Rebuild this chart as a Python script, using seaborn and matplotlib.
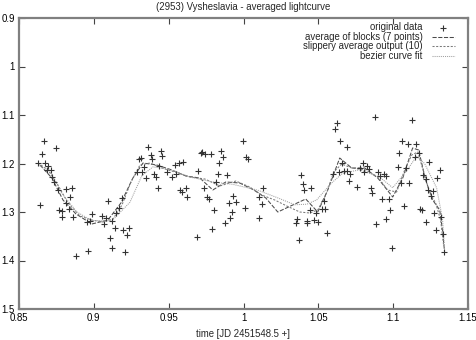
import numpy as np
import pandas as pd
import matplotlib
matplotlib.use("Agg")
import matplotlib.pyplot as plt
import seaborn as sns

# ---- data -------------------------------------------------------------
time_obs = [0.8629, 0.8642, 0.8652, 0.8667, 0.8674, 0.8689, 0.8696, 0.8714, 0.8722, 0.8736,
            0.8745, 0.8762, 0.8767, 0.8785, 0.8789, 0.8812, 0.8816, 0.8834, 0.8838, 0.8856,
            0.8860, 0.8879, 0.8952, 0.8963, 0.8976, 0.8985, 0.9052, 0.9069, 0.9083, 0.9096,
            0.9106, 0.9119, 0.9123, 0.9141, 0.9148, 0.9170, 0.9190, 0.9196, 0.9208, 0.9219,
            0.9236, 0.9290, 0.9303, 0.9312, 0.9321, 0.9337, 0.9346, 0.9363, 0.9381, 0.9390,
            0.9403, 0.9413, 0.9430, 0.9435, 0.9448, 0.9457, 0.9490, 0.9521, 0.9541, 0.9548,
            0.9570, 0.9575, 0.9590, 0.9597, 0.9615, 0.9624, 0.9690, 0.9697, 0.9713, 0.9724,
            0.9735, 0.9746, 0.9757, 0.9770, 0.9784, 0.9790, 0.9804, 0.9813, 0.9831, 0.9837,
            0.9853, 0.9864, 0.9877, 0.9887, 0.9902, 0.9909, 0.9924, 0.9931, 0.9949, 0.9997,
            1.0007, 1.0020, 1.0033, 1.0104, 1.0104, 1.0124, 1.0131, 1.0349, 1.0358, 1.0371,
            1.0383, 1.0398, 1.0405, 1.0421, 1.0425, 1.0443, 1.0451, 1.0469, 1.0487, 1.0498,
            1.0523, 1.0546, 1.0536, 1.0558, 1.0598, 1.0614, 1.0625, 1.0638, 1.0643, 1.0661,
            1.0672, 1.0692, 1.0692, 1.0705, 1.0714, 1.0761, 1.0781, 1.0799, 1.0803, 1.0828,
            1.0839, 1.0850, 1.0861, 1.0877, 1.0883, 1.0899, 1.0910, 1.0927, 1.0937, 1.0953,
            1.0972, 1.0979, 1.0952, 1.0994, 1.1032, 1.1039, 1.1055, 1.1059, 1.1074, 1.1088,
            1.1099, 1.1106, 1.1126, 1.1144, 1.1150, 1.1172, 1.1180, 1.1194, 1.1199, 1.1217,
            1.1222, 1.1234, 1.1239, 1.1251, 1.1264, 1.1271, 1.1289, 1.1293, 1.1311, 1.1317,
            1.1333, 1.1339]
mag_obs = [1.1996, 1.2862, 1.1804, 1.1536, 1.1996, 1.2134, 1.2052, 1.2134, 1.2272, 1.2375,
           1.1687, 1.2546, 1.2959, 1.2986, 1.3109, 1.2532, 1.2808, 1.2944, 1.2697, 1.2511,
           1.3109, 1.3901, 1.3200, 1.3804, 1.3179, 1.3048, 1.3083, 1.3254, 1.3130, 1.2779,
           1.3542, 1.3186, 1.3736, 1.3324, 1.3027, 1.2924, 1.2705, 1.3371, 1.3831, 1.3474,
           1.3336, 1.2181, 1.1913, 1.1893, 1.2181, 1.2078, 1.2305, 1.1666, 1.1825, 1.1913,
           1.2217, 1.2272, 1.2511, 1.2052, 1.1742, 1.1845, 1.2169, 1.2272, 1.2031, 1.2217,
           1.1984, 1.2546, 1.2582, 1.1963, 1.2511, 1.2685, 1.3509, 1.2148, 1.1790, 1.1769,
           1.2499, 1.1804, 1.2685, 1.2726, 1.1810, 1.3357, 1.2959, 1.2388, 1.2217, 1.1996,
           1.1742, 1.1872, 1.3233, 1.2237, 1.2821, 1.3118, 1.3006, 1.2670, 1.2800, 1.1536,
           1.2924, 1.1872, 1.1913, 1.2685, 1.3118, 1.2841, 1.2511, 1.3221, 1.3151, 1.3577,
           1.2237, 1.2429, 1.2546, 1.3186, 1.3221, 1.2969, 1.2499, 1.3165, 1.3027, 1.3212,
           1.2938, 1.2944, 1.2779, 1.3423, 1.2217, 1.1295, 1.1171, 1.2169, 1.1536, 1.1984,
           1.2148, 1.1666, 1.2148, 1.2361, 1.2217, 1.2478, 1.2099, 1.1996, 1.2169, 1.2052,
           1.2120, 1.2511, 1.2615, 1.1035, 1.3254, 1.2169, 1.2258, 1.2738, 1.2223, 1.2258,
           1.2738, 1.2965, 1.3151, 1.3742, 1.2066, 1.1790, 1.2408, 1.1530, 1.2876, 1.2099,
           1.1604, 1.2408, 1.1103, 1.1872, 1.1604, 1.1777, 1.2928, 1.2969, 1.2237, 1.3216,
           1.2320, 1.2546, 1.1975, 1.2680, 1.2557, 1.3027, 1.3371, 1.2293, 1.2134, 1.3093,
           1.3460, 1.3825]

block_t = [0.8640, 0.8720, 0.8794, 0.8881, 0.8987, 0.9094, 0.9181, 0.9261, 0.9328, 0.9421,
           0.9521, 0.9615, 0.9708, 0.9795, 0.9882, 0.9975, 1.0069, 1.0149, 1.0229, 1.0329,
           1.0416, 1.0496, 1.0563, 1.0643, 1.0723, 1.0810, 1.0897, 1.0997, 1.1064, 1.1130,
           1.1170, 1.1217, 1.1264, 1.1311, 1.1331, 1.1344]
block_m = [1.2031, 1.2299, 1.2753, 1.3041, 1.3247, 1.3165, 1.2814, 1.2299, 1.1990, 1.2031,
           1.2134, 1.2258, 1.2299, 1.2546, 1.2381, 1.2402, 1.2546, 1.2711, 1.3000, 1.2856,
           1.2732, 1.3000, 1.2546, 1.1887, 1.2093, 1.2093, 1.2299, 1.2691, 1.2299, 1.1680,
           1.1722, 1.2340, 1.2753, 1.2959, 1.3412, 1.3845]

slip_t = [0.8627, 0.8694, 0.8760, 0.8827, 0.8907, 0.8987, 0.9061, 0.9128, 0.9188, 0.9248,
          0.9308, 0.9375, 0.9455, 0.9541, 0.9642, 0.9742, 0.9842, 0.9949, 1.0042, 1.0122,
          1.0209, 1.0289, 1.0376, 1.0443, 1.0496, 1.0550, 1.0603, 1.0656, 1.0723, 1.0817,
          1.0897, 1.0963, 1.1023, 1.1077, 1.1124, 1.1164, 1.1204, 1.1244, 1.1284, 1.1317,
          1.1337]
slip_m = [1.1990, 1.2134, 1.2443, 1.2814, 1.3083, 1.3165, 1.3206, 1.3144, 1.2856, 1.2381,
          1.2031, 1.1990, 1.2093, 1.2175, 1.2278, 1.2320, 1.2464, 1.2361, 1.2485, 1.2650,
          1.2753, 1.2876, 1.3000, 1.3021, 1.2959, 1.2650, 1.2175, 1.2010, 1.2093, 1.2134,
          1.2278, 1.2546, 1.2588, 1.2134, 1.1825, 1.1763, 1.2175, 1.2608, 1.2814, 1.3165,
          1.3681]

bez_t = [0.8627, 0.8707, 0.8787, 0.8887, 0.8987, 0.9121, 0.9241, 0.9321, 0.9395, 0.9508,
         0.9642, 0.9795, 0.9929, 1.0095, 1.0222, 1.0342, 1.0423, 1.0489, 1.0589, 1.0663,
         1.0776, 1.0910, 1.0997, 1.1090, 1.1157, 1.1210, 1.1290, 1.1330, 1.1344]
bez_m = [1.203, 1.215, 1.262, 1.300, 1.318, 1.318, 1.280, 1.225, 1.207, 1.212,
         1.228, 1.238, 1.243, 1.255, 1.270, 1.285, 1.284, 1.275, 1.240, 1.220,
         1.213, 1.228, 1.250, 1.215, 1.185, 1.200, 1.250, 1.315, 1.380]

x_ticks = [0.85, 0.9, 0.95, 1.0, 1.05, 1.1, 1.15]
x_tick_labels = ["0.85", "0.9", "0.95", "1", "1.05", "1.1", "1.15"]
y_ticks = [0.9, 1.0, 1.1, 1.2, 1.3, 1.4, 1.5]
y_tick_labels = ["0.9", "1", "1.1", "1.2", "1.3", "1.4", "1.5"]

# ---- style ------------------------------------------------------------
sns.set_theme(style="white")
plt.rcParams["font.family"] = ["Liberation Sans", "DejaVu Sans"]
FS = 6.9

fig = plt.figure(figsize=(4.77, 3.40), dpi=100)
ax = fig.add_axes([19 / 477, 1 - 309 / 340, 449 / 477, 291 / 340])

sns.scatterplot(x=time_obs, y=mag_obs, marker="+", s=24, color="#333333",
                linewidth=0.8, ax=ax, label="original data", zorder=3)

sns.lineplot(x=block_t, y=block_m, ax=ax, color="#4a4a4a", linewidth=0.75,
             estimator=None, sort=False, label="average of blocks (7 points)")
sns.lineplot(x=slip_t, y=slip_m, ax=ax, color="#7a7a7a", linewidth=0.75,
             estimator=None, sort=False, label="slippery average output (10)")
sns.lineplot(x=bez_t, y=bez_m, ax=ax, color="#a0a0a0", linewidth=0.75,
             estimator=None, sort=False, label="bezier curve fit")

lines = ax.get_lines()
lines[0].set_dashes([4, 1.5])
lines[1].set_dashes([2, 1.5])
lines[2].set_dashes([1, 1])

ax.set_xlim(0.85, 1.15)
ax.set_ylim(1.5, 0.9)
ax.set_xticks(x_ticks)
ax.set_xticklabels(x_tick_labels, fontsize=FS)
ax.set_yticks(y_ticks)
ax.set_yticklabels(y_tick_labels, fontsize=FS)
ax.tick_params(direction="in", length=4, width=0.8, color="#444444",
               top=True, right=True, bottom=True, left=True, pad=3,
               labelcolor="black")
for sp in ax.spines.values():
    sp.set_color("#808080")
    sp.set_linewidth(1.6)

ax.set_xlabel("time [JD 2451548.5 +]", fontsize=FS, labelpad=4)
ax.set_ylabel("")
ax.set_title("(2953) Vysheslavia - averaged lightcurve", fontsize=FS, pad=6)

leg = ax.legend(loc="upper right", bbox_to_anchor=(0.971, 0.985), frameon=False,
                markerfirst=False, fontsize=FS, handlelength=2.4, handletextpad=1.0,
                labelspacing=-0.05, borderpad=0, borderaxespad=0)
for h in leg.legend_handles:
    try:
        h.set_sizes([24])
    except Exception:
        pass

fig.savefig("out.png", dpi=100)
